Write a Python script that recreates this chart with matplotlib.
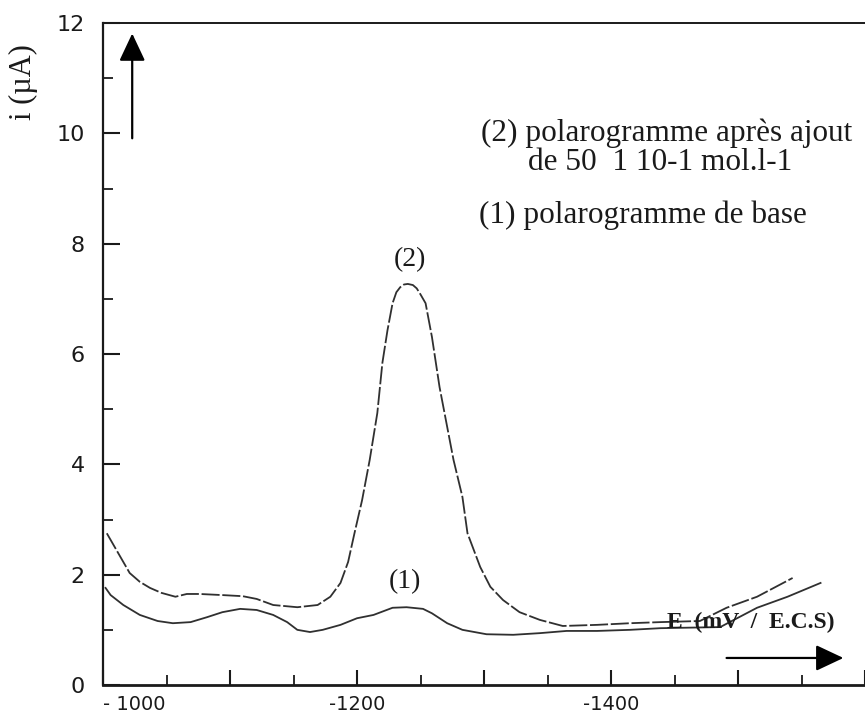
import numpy as np
import matplotlib
matplotlib.use('Agg')
import matplotlib.pyplot as plt
from matplotlib.ticker import MultipleLocator

# potential (mV vs E.C.S) and current (µA)
e_add = [-1003, -1015, -1021, -1029, -1037, -1046, -1057, -1066, -1076, -1094,
         -1110, -1121, -1134, -1153, -1169, -1179, -1187, -1193, -1198, -1204,
         -1210, -1216, -1220, -1224, -1228, -1231, -1234, -1237, -1240, -1244,
         -1247, -1250, -1254, -1259,
         -1265, -1271, -1276, -1283, -1287, -1297, -1305, -1315, -1328, -1344,
         -1362, -1389, -1415, -1439, -1470, -1491, -1515, -1543]
i_add = [2.75, 2.27, 2.03, 1.87, 1.76, 1.67, 1.60, 1.65, 1.65, 1.63,
         1.61, 1.56, 1.45, 1.41, 1.45, 1.60, 1.85, 2.23, 2.75, 3.35,
         4.08, 4.93, 5.84, 6.43, 6.92, 7.12, 7.21, 7.26, 7.27, 7.25,
         7.19, 7.08, 6.92, 6.31,
         5.40, 4.68, 4.08, 3.41, 2.75, 2.14, 1.78, 1.54, 1.32, 1.18,
         1.07, 1.09, 1.12, 1.14, 1.16, 1.40, 1.60, 1.94]

e_base = [-1002, -1006, -1016, -1029, -1043, -1055, -1069, -1082, -1094, -1108,
          -1121, -1134, -1145, -1153, -1163, -1173, -1187, -1200, -1213, -1228,
          -1239, -1252, -1259, -1271, -1283, -1302, -1323, -1344, -1365, -1389,
          -1415, -1439, -1486, -1515, -1539, -1565]
i_base = [1.76, 1.63, 1.45, 1.27, 1.16, 1.12, 1.14, 1.23, 1.32, 1.38,
          1.36, 1.27, 1.14, 1.00, 0.96, 1.00, 1.09, 1.21, 1.27, 1.40,
          1.41, 1.38, 1.30, 1.12, 1.00, 0.92, 0.91, 0.94, 0.98, 0.98,
          1.00, 1.03, 1.05, 1.40, 1.60, 1.85]

x_ticks = [-1000, -1200, -1400]
x_ticklabels = ['- 1000', '-1200', '-1400']
y_ticks = [0, 2, 4, 6, 8, 10, 12]

serif = ['Liberation Serif', 'DejaVu Serif']
ink = '#1a1a1a'

fig = plt.figure(figsize=(8.65, 7.17), dpi=100)
ax = fig.add_axes([103 / 865, 32 / 717, 1 - 103 / 865, 662 / 717])

ax.plot(e_base, i_base, color='#303030', lw=1.3)
ax.plot(e_add, i_add, color='#303030', lw=1.3, dashes=(10, 1.5))

ax.set_xlim(-1000, -1600)
ax.set_ylim(0, 12)

ax.spines['right'].set_visible(False)
ax.spines['left'].set_linewidth(1.6)
ax.spines['top'].set_linewidth(1.4)
ax.spines['bottom'].set_linewidth(2.0)
for s in ax.spines.values():
    s.set_color(ink)

ax.xaxis.set_major_locator(MultipleLocator(100))
ax.xaxis.set_minor_locator(MultipleLocator(50))
ax.yaxis.set_major_locator(MultipleLocator(2))
ax.yaxis.set_minor_locator(MultipleLocator(1))
ax.set_yticks(y_ticks)
ax.set_yticklabels([str(v) for v in y_ticks])
xt = list(range(-1000, -1601, -100))
ax.set_xticks(xt)
ax.set_xticklabels([x_ticklabels[x_ticks.index(v)] if v in x_ticks else '' for v in xt])

ax.tick_params(axis='both', which='major', direction='in', color=ink, width=1.5)
ax.tick_params(axis='both', which='minor', direction='in', color=ink, width=1.3)
ax.tick_params(axis='y', which='major', length=12, pad=13, labelsize=16, labelcolor=ink)
ax.tick_params(axis='y', which='minor', length=7)
ax.tick_params(axis='x', which='major', length=11, pad=7, labelsize=14, labelcolor=ink)
ax.tick_params(axis='x', which='minor', length=7)
ax.tick_params(top=False, right=False, which='both')
ax.get_xticklabels()[0].set_horizontalalignment('left')

fig.text(23 / 865, 1 - 82 / 717, 'i (µA)', rotation=90, ha='center', va='center',
         family=serif, fontsize=22, color=ink)

# annotations on the curves and the key
ax.text(-1242, 7.72, '(2)', ha='center', va='center', family=serif, fontsize=20, color=ink)
ax.text(-1238, 1.88, '(1)', ha='center', va='center', family=serif, fontsize=20, color=ink)
ax.text(-1298, 10.0, '(2) polarogramme après ajout', ha='left', va='center',
        family=serif, fontsize=22.5, color=ink)
ax.text(-1335, 9.47, 'de 50  1 10-1 mol.l-1', ha='left', va='center',
        family=serif, fontsize=22.5, color=ink)
ax.text(-1296, 8.51, '(1) polarogramme de base', ha='left', va='center',
        family=serif, fontsize=22.5, color=ink)
ax.text(-1444, 1.14, 'E  (mV  /  E.C.S)', ha='left', va='center',
        family=serif, fontsize=17, fontweight='bold', color=ink)

# axis direction arrows
head = '-|>,head_length=0.85,head_width=0.4'
ax.annotate('', xy=(-1023, 11.81), xytext=(-1023, 9.91),
            arrowprops=dict(arrowstyle=head, mutation_scale=20, lw=1.6, color='black',
                            shrinkA=0, shrinkB=0))
ax.annotate('', xy=(-1583, 0.49), xytext=(-1491, 0.49),
            arrowprops=dict(arrowstyle=head, mutation_scale=20, lw=1.6, color='black',
                            shrinkA=0, shrinkB=0))

fig.savefig('out.png', dpi=100)
